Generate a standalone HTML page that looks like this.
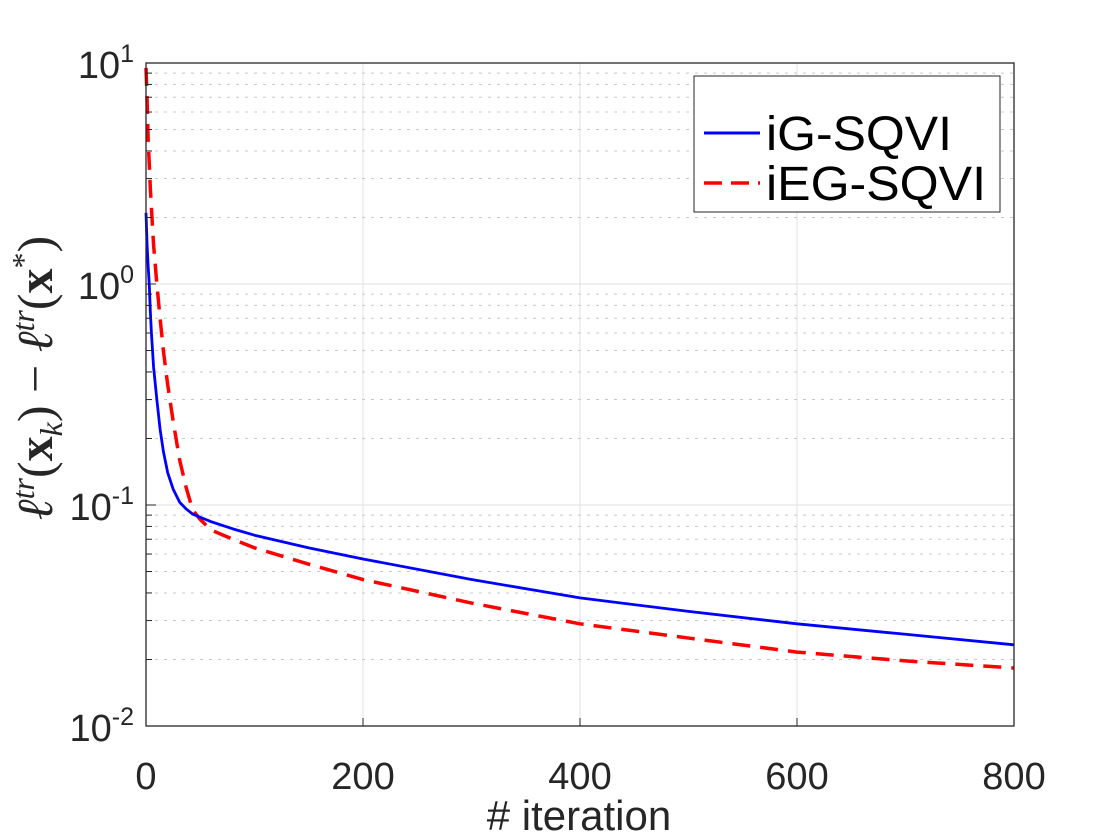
<!DOCTYPE html>
<html><head><meta charset="utf-8">
<style>
html,body{margin:0;padding:0;background:#fff;}
svg{display:block;font-family:"Liberation Sans",Arial,sans-serif;}
</style></head>
<body>
<svg id="chart" width="1120" height="840" viewBox="0 0 1120 840" xmlns="http://www.w3.org/2000/svg">
<rect x="0" y="0" width="1120" height="840" fill="#fff"/>
<g id="grid"></g>
<g id="series"></g>
<g id="axes"></g>
<text x="579" y="830" font-size="42" text-anchor="middle" fill="#262626"># iteration</text>
<text transform="translate(52,378) rotate(-90)" font-size="50" text-anchor="middle" fill="#262626" font-family="'Liberation Serif',serif"><tspan font-style="italic">ℓ</tspan><tspan font-style="italic" font-size="32" dy="-18">tr</tspan><tspan dy="18">(</tspan><tspan font-weight="bold">x</tspan><tspan font-style="italic" font-size="32" dy="10">k</tspan><tspan dy="-10">) − </tspan><tspan font-style="italic">ℓ</tspan><tspan font-style="italic" font-size="32" dy="-18">tr</tspan><tspan dy="18">(</tspan><tspan font-weight="bold">x</tspan><tspan font-size="32" dy="-18">*</tspan><tspan dy="18">)</tspan></text>
<g>
<rect x="694" y="76" width="306" height="136" fill="#fff" stroke="#262626" stroke-width="1"/>
<line x1="704" y1="133" x2="760" y2="133" stroke="#0000ff" stroke-width="3"/>
<text x="766" y="150" font-size="48" fill="#000" textLength="186" lengthAdjust="spacingAndGlyphs">iG-SQVI</text>
<line x1="704" y1="183" x2="760" y2="183" stroke="#ff0000" stroke-width="3.5" stroke-dasharray="18,9"/>
<text x="766" y="200" font-size="48" fill="#000" textLength="220" lengthAdjust="spacingAndGlyphs">iEG-SQVI</text>
</g>
</svg>
<script>
const iterations = [0,1,2,3,4,5,7,10,13,16,20,25,31,37,43,50,60,80,100,150,200,300,400,500,600,700,800];
const igValues =   [2.1,1.5,1.2,1.0,0.75,0.6,0.42,0.3,0.22,0.175,0.14,0.118,0.103,0.096,0.091,0.088,0.084,0.078,0.073,0.064,0.057,0.046,0.038,0.033,0.029,0.026,0.0233];
const iegValues =  [9.5,6.8,4.5,3.5,2.7,2.2,1.5,1.0,0.7,0.5,0.35,0.24,0.16,0.12,0.095,0.086,0.077,0.07,0.064,0.054,0.046,0.036,0.029,0.025,0.0216,0.0197,0.0183];
const xTicks = [0,200,400,600,800];
const yDecades = [-2,-1,0,1];

const L=146,R=1014,T=63,B=726;
const NS="http://www.w3.org/2000/svg";
function xs(v){return L+(v-0)/(800-0)*(R-L);}
function ys(v){return B-(Math.log10(v)+2)/3*(B-T);}
function mk(tag,attrs,parent){const e=document.createElementNS(NS,tag);for(const k in attrs)e.setAttribute(k,attrs[k]);parent.appendChild(e);return e;}
const grid=document.getElementById('grid'),axes=document.getElementById('axes'),series=document.getElementById('series');

xTicks.forEach(t=>{
  if(t===0||t===800)return;
  const g=mk('line',{x1:xs(t),x2:xs(t),y1:T,y2:B,stroke:'#e2e2e2','stroke-width':1},grid);
  
  
});
for(let d=-2;d<1;d++){
  for(let m=1;m<10;m++){
    const v=m*Math.pow(10,d);
    const y=ys(v);
    const minor=m!==1;
    const g=mk('line',{x1:L,x2:R,y1:y,y2:y,stroke:minor?'#c8c8c8':'#e2e2e2','stroke-width':1,'stroke-dasharray':minor?'3,6':'none'},grid);
    
    
    if(minor){
      const t1=mk('line',{x1:L,x2:L+6,y1:y,y2:y,stroke:'#262626','stroke-width':1},axes);
      
      
    }
  }
}
const box=mk('rect',{x:L,y:T,width:R-L,height:B-T,fill:'none',stroke:'#262626','stroke-width':1.3},axes);


xTicks.forEach(t=>{
  const tk=mk('line',{x1:xs(t),x2:xs(t),y1:B,y2:B-8,stroke:'#262626','stroke-width':1},axes);
  
  
  const lb=mk('text',{x:xs(t),y:B+63,'font-size':38,'text-anchor':'middle',fill:'#262626'},axes);
  lb.textContent=t;
  
  
});
yDecades.forEach(d=>{
  const y=ys(Math.pow(10,d));
  const tk=mk('line',{x1:L,x2:L+10,y1:y,y2:y,stroke:'#262626','stroke-width':1},axes);
  
  
  const lb=mk('text',{x:L-12,y:y+15,'font-size':38,'text-anchor':'end',fill:'#262626'},axes);
  
  
  const b=mk('tspan',{},lb);b.textContent='10';
  const e=mk('tspan',{'font-size':25,dy:-16},lb);e.textContent=String(d);
});
function path(vals,attrs,name){
  const d=vals.map((v,i)=>(i?'L':'M')+xs(iterations[i]).toFixed(2)+','+ys(v).toFixed(2)).join(' ');
  const p=mk('path',Object.assign({d:d,fill:'none','stroke-linejoin':'round'},attrs),series);
  
  
}
path(iegValues,{stroke:'#ff0000','stroke-width':3.5,'stroke-dasharray':'18,10'},'ieg-sqvi-line');
path(igValues,{stroke:'#0000ff','stroke-width':2.8},'ig-sqvi-line');
</script>
</body></html>
